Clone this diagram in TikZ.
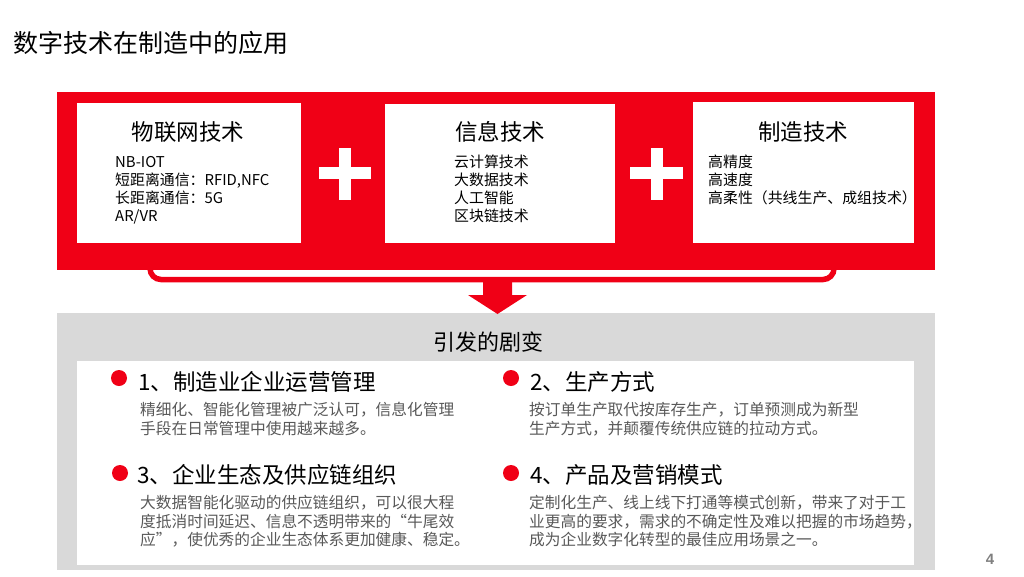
\documentclass[tikz,border=0pt]{standalone}
\usepackage{fontspec}
\setmainfont{Noto Sans CJK SC}
\newfontfamily\numfont{Liberation Sans}
\definecolor{myred}{RGB}{240,0,22}
\definecolor{panelgray}{RGB}{217,217,217}
\definecolor{bodygray}{RGB}{89,89,89}
\definecolor{pagegray}{RGB}{127,127,127}
\tikzset{
  whitebox/.style={fill=white, draw=none, inner sep=0, anchor=north west},
  boxtitle/.style={font=\fontsize{22.5}{27}\selectfont, inner sep=0, anchor=center},
  itemtext/.style={font=\fontsize{14.9}{18}\selectfont, align=left, anchor=west, inner sep=0},
  heading/.style={font=\fontsize{22.5}{27}\selectfont, anchor=west, inner sep=0},
  bodytext/.style={font=\fontsize{15.7}{18.5}\selectfont, text=bodygray, align=left, anchor=west, inner sep=0},
  bulletdot/.style={circle, fill=myred, minimum size=16pt, inner sep=0},
}
\begin{document}
\begin{tikzpicture}[x=1pt,y=-1pt]
\useasboundingbox (0,0) rectangle (1024,576);
% title
\node[anchor=west, inner sep=0, font=\fontsize{25}{30}\selectfont] (title) at (13,43) {数字技术在制造中的应用};
% red panel
\fill[myred] (57,92) rectangle (935,270);
\node[whitebox, minimum width=224pt, minimum height=140pt] (box1) at (77,103) {};
\node[whitebox, minimum width=230pt, minimum height=139pt] (box2) at (385,104) {};
\node[whitebox, minimum width=221pt, minimum height=141pt] (box3) at (693,102) {};
% plus signs
\fill[white] (319,167) rectangle (371,179);
\fill[white] (339,148) rectangle (351,200);
\fill[white] (630,167) rectangle (683,179);
\fill[white] (651,148) rectangle (663,200);
% box texts
\node[boxtitle] (t1) at (188,132) {物联网技术};
\node[itemtext] (i1) at (115,190) {NB-IOT\\短距离通信：RFID,NFC\\长距离通信：5G\\AR/VR};
\node[boxtitle] (t2) at (500,132) {信息技术};
\node[itemtext] (i2) at (454,189) {云计算技术\\大数据技术\\人工智能\\区块链技术};
\node[boxtitle] (t3) at (803,132) {制造技术};
\node[itemtext] (i3) at (708,180) {高精度\\高速度\\高柔性（共线生产、成组技术）};
% bracket
\draw[myred, line width=5.5pt, rounded corners=11pt] (150,262) -- (150,279.5) -- (834,279.5) -- (834,262);
% gray panel
\fill[panelgray] (57,313) rectangle (935,570);
\node[whitebox, minimum width=837pt, minimum height=204pt] (inner) at (77,361) {};
\node[inner sep=0, font=\fontsize{22}{26}\selectfont] (sub) at (488,342) {引发的剧变};
% arrow
\fill[myred] (483,278) -- (512,278) -- (512,295) -- (527,295) -- (497.5,314) -- (468,295) -- (483,295) -- cycle;
% items
\node[bulletdot] (d1) at (119,378) {};
\node[heading] (h1) at (138,382) {1、制造业企业运营管理};
\node[bodytext] (b1) at (140,419) {精细化、智能化管理被广泛认可，信息化管理\\手段在日常管理中使用越来越多。};
\node[bulletdot] (d2) at (511,378) {};
\node[heading] (h2) at (530,382) {2、生产方式};
\node[bodytext] (b2) at (529,419) {按订单生产取代按库存生产，订单预测成为新型\\生产方式，并颠覆传统供应链的拉动方式。};
\node[bulletdot] (d3) at (120,473) {};
\node[heading] (h3) at (137,475) {3、企业生态及供应链组织};
\node[bodytext] (b3) at (140,521.5) {大数据智能化驱动的供应链组织，可以很大程\\度抵消时间延迟、信息不透明带来的“牛尾效\\应”，使优秀的企业生态体系更加健康、稳定。};
\node[bulletdot] (d4) at (511,473) {};
\node[heading] (h4) at (530,475) {4、产品及营销模式};
\node[bodytext] (b4) at (529,521.5) {定制化生产、线上线下打通等模式创新，带来了对于工\\业更高的要求，需求的不确定性及难以把握的市场趋势，\\成为企业数字化转型的最佳应用场景之一。};
% page number
\node[inner sep=0, text=pagegray, font=\numfont\bfseries\fontsize{15}{18}\selectfont] (pg) at (990,559) {4};
\end{tikzpicture}
\end{document}
